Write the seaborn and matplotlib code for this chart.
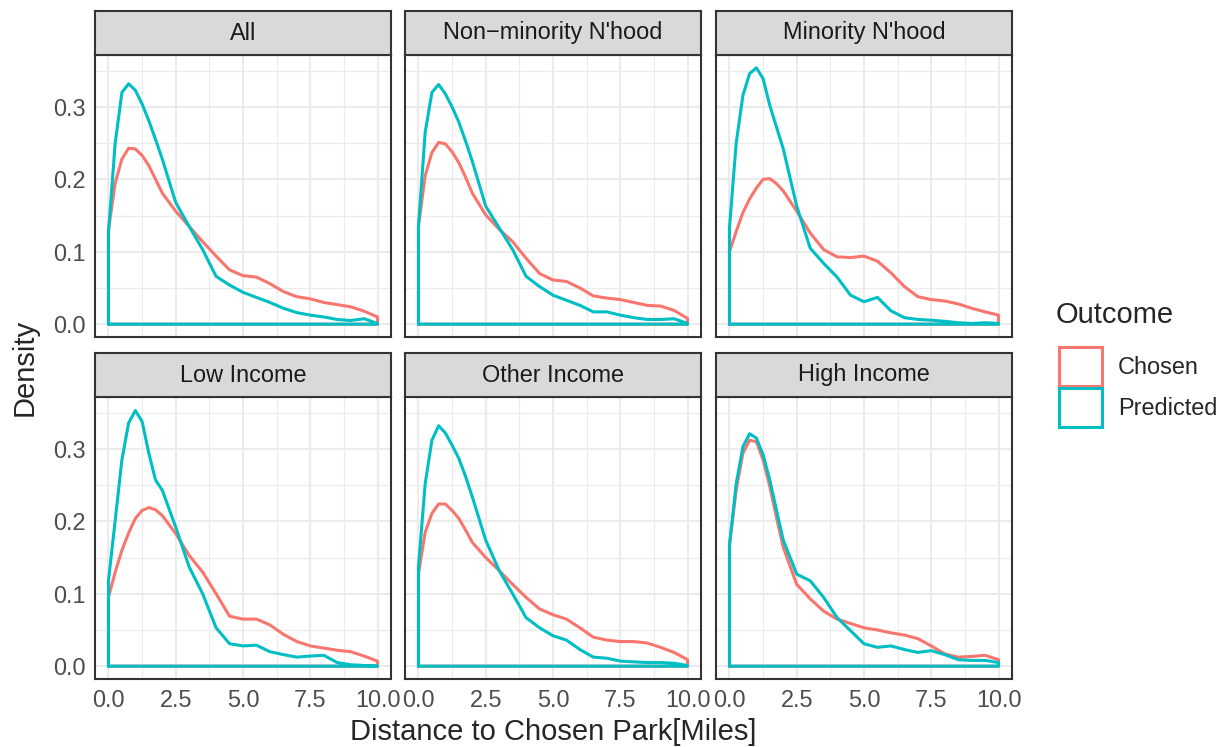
import pandas as pd
import seaborn as sns
import matplotlib.pyplot as plt
from matplotlib.patches import Patch
from matplotlib.ticker import MultipleLocator

# facet labels / outcome groups
panels = ["All", "Non\u2212minority N'hood", "Minority N'hood",
          "Low Income", "Other Income", "High Income"]
outcomes = ["Chosen", "Predicted"]

# distance grid (miles) at which the density curves were read
miles = [0, 0.25, 0.5, 0.75, 1, 1.25, 1.5, 1.75, 2, 2.5, 3, 3.5, 4, 4.5,
         5, 5.5, 6, 6.5, 7, 7.5, 8, 8.5, 9, 9.5, 10]

all_chosen = [0.130, 0.195, 0.228, 0.243, 0.242, 0.233, 0.219, 0.200, 0.181, 0.156, 0.135, 0.114, 0.094,
              0.075, 0.067, 0.065, 0.056, 0.045, 0.038, 0.035, 0.030, 0.027, 0.024, 0.018, 0.010]
all_pred = [0.126, 0.250, 0.320, 0.332, 0.323, 0.304, 0.281, 0.255, 0.228, 0.168, 0.135, 0.103, 0.066,
            0.054, 0.044, 0.037, 0.030, 0.022, 0.016, 0.0125, 0.010, 0.0065, 0.005, 0.0075, 0.001]
nonmin_chosen = [0.135, 0.205, 0.237, 0.251, 0.249, 0.238, 0.223, 0.203, 0.181, 0.151, 0.131, 0.114, 0.091,
                 0.070, 0.061, 0.059, 0.050, 0.039, 0.036, 0.034, 0.030, 0.026, 0.025, 0.019, 0.008]
nonmin_pred = [0.135, 0.265, 0.320, 0.331, 0.318, 0.300, 0.279, 0.253, 0.225, 0.163, 0.133, 0.103, 0.066,
               0.052, 0.040, 0.033, 0.026, 0.017, 0.017, 0.0125, 0.009, 0.0065, 0.0065, 0.0075, 0.001]
min_chosen = [0.100, 0.128, 0.154, 0.173, 0.188, 0.200, 0.201, 0.194, 0.184, 0.156, 0.126, 0.103, 0.093,
              0.092, 0.094, 0.087, 0.071, 0.052, 0.038, 0.034, 0.032, 0.028, 0.022, 0.017, 0.0125]
min_pred = [0.133, 0.250, 0.316, 0.346, 0.354, 0.339, 0.302, 0.272, 0.242, 0.163, 0.105, 0.084, 0.065,
            0.040, 0.031, 0.037, 0.0185, 0.009, 0.0065, 0.0055, 0.004, 0.002, 0.001, 0.002, 0.001]
low_chosen = [0.095, 0.130, 0.160, 0.184, 0.204, 0.215, 0.219, 0.216, 0.208, 0.183, 0.153, 0.130, 0.100,
              0.069, 0.065, 0.065, 0.057, 0.044, 0.034, 0.028, 0.025, 0.022, 0.020, 0.014, 0.007]
low_pred = [0.118, 0.201, 0.285, 0.336, 0.353, 0.338, 0.294, 0.257, 0.243, 0.192, 0.137, 0.100, 0.053,
            0.031, 0.028, 0.029, 0.020, 0.016, 0.0125, 0.014, 0.015, 0.005, 0.002, 0.001, 0.0]
other_chosen = [0.127, 0.185, 0.211, 0.224, 0.224, 0.215, 0.204, 0.188, 0.171, 0.150, 0.132, 0.113, 0.095,
                0.079, 0.071, 0.065, 0.053, 0.040, 0.036, 0.034, 0.034, 0.032, 0.026, 0.019, 0.009]
other_pred = [0.137, 0.252, 0.312, 0.332, 0.322, 0.305, 0.287, 0.262, 0.234, 0.174, 0.132, 0.100, 0.067,
              0.053, 0.042, 0.036, 0.023, 0.0125, 0.011, 0.007, 0.006, 0.005, 0.005, 0.004, 0.001]
high_chosen = [0.167, 0.243, 0.294, 0.312, 0.310, 0.285, 0.248, 0.205, 0.164, 0.113, 0.093, 0.076, 0.065,
               0.059, 0.053, 0.050, 0.046, 0.043, 0.038, 0.028, 0.017, 0.0125, 0.0135, 0.015, 0.009]
high_pred = [0.167, 0.252, 0.303, 0.321, 0.315, 0.292, 0.257, 0.215, 0.174, 0.127, 0.118, 0.095, 0.067,
             0.049, 0.031, 0.026, 0.028, 0.023, 0.019, 0.0215, 0.016, 0.009, 0.008, 0.008, 0.005]

curves = {
    panels[0]: (all_chosen, all_pred),
    panels[1]: (nonmin_chosen, nonmin_pred),
    panels[2]: (min_chosen, min_pred),
    panels[3]: (low_chosen, low_pred),
    panels[4]: (other_chosen, other_pred),
    panels[5]: (high_chosen, high_pred),
}

# long table; each curve closed down to the baseline like geom_density's outline
rows = []
for p, vals in curves.items():
    for o, ys in zip(outcomes, vals):
        xs = [miles[0]] + miles + [miles[-1], miles[0]]
        yy = [0] + list(ys) + [0, 0]
        for x, y in zip(xs, yy):
            rows.append({"panel": p, "outcome": o, "miles": x, "density": y})
df = pd.DataFrame(rows)

sns.set_style("white")
plt.rcParams["font.family"] = ["Liberation Sans", "DejaVu Sans"]

palette = {"Chosen": "#F8766D", "Predicted": "#00BFC4"}
W, H = 1218, 747
fig = plt.figure(figsize=(W / 100, H / 100), dpi=100)

lefts = [95, 405, 716]
tops = [55, 397]
pw, ph, sh = 296, 282, 44
ymax = df["density"].max()

for i, p in enumerate(panels):
    r, c = divmod(i, 3)
    L, T = lefts[c], tops[r]
    ax = fig.add_axes([L / W, 1 - (T + ph) / H, pw / W, ph / H])
    sns.lineplot(data=df[df.panel == p], x="miles", y="density", hue="outcome",
                 hue_order=outcomes, palette=palette, sort=False, estimator=None,
                 linewidth=2.2, legend=False, ax=ax)
    ax.set_xlim(-0.5, 10.5)
    ax.set_ylim(-0.05 * ymax, 1.05 * ymax)
    ax.xaxis.set_major_locator(MultipleLocator(2.5))
    ax.xaxis.set_minor_locator(MultipleLocator(1.25))
    ax.yaxis.set_major_locator(MultipleLocator(0.1))
    ax.yaxis.set_minor_locator(MultipleLocator(0.05))
    ax.grid(which="major", color="#EBEBEB", linewidth=1.5)
    ax.grid(which="minor", color="#EBEBEB", linewidth=0.8)
    ax.set_axisbelow(True)
    for s in ax.spines.values():
        s.set_color("#333333")
        s.set_linewidth(1.5)
    ax.set_xlabel("")
    ax.set_ylabel("")
    ax.tick_params(which="minor", length=0)
    ax.tick_params(which="major", length=4, width=1.1, color="#333333",
                   labelcolor="#4D4D4D", labelsize=16.9, pad=3)
    ax.set_xticks([0, 2.5, 5, 7.5, 10])
    ax.set_xticklabels(["0.0", "2.5", "5.0", "7.5", "10.0"])
    ax.set_yticks([0, 0.1, 0.2, 0.3])
    ax.set_yticklabels(["0.0", "0.1", "0.2", "0.3"])
    if r == 0:
        ax.tick_params(axis="x", which="major", length=0, labelbottom=False)
    if c > 0:
        ax.tick_params(axis="y", which="major", length=0, labelleft=False)

    # strip
    sax = fig.add_axes([L / W, 1 - T / H, pw / W, sh / H])
    sax.set_facecolor("#D9D9D9")
    sax.set_xticks([])
    sax.set_yticks([])
    for s in sax.spines.values():
        s.set_color("#333333")
        s.set_linewidth(1.5)
    sax.text(0.5, 0.5, p, ha="center", va="center", fontsize=16.9, color="#1A1A1A")

fig.text(553 / W, 1 - 732 / H, "Distance to Chosen Park[Miles]", ha="center", va="center", fontsize=21)
fig.text(25 / W, 1 - 367 / H, "Density", ha="center", va="center", rotation=90, fontsize=21)

# legend: title as text, keys as outlined boxes
fig.text(1056 / W, 1 - 315 / H, "Outcome", ha="left", va="center", fontsize=21)
handles = [Patch(facecolor="white", edgecolor=palette[o], linewidth=2.2) for o in outcomes]
fig.legend(handles, outcomes, loc="upper left",
           bbox_to_anchor=(1050 / W, 1 - 338 / H), frameon=False,
           fontsize=16.9, handlelength=1.8, handleheight=2.15,
           labelspacing=0.1, handletextpad=0.7, borderaxespad=0)

fig.savefig("out.png", dpi=100, facecolor="white")
